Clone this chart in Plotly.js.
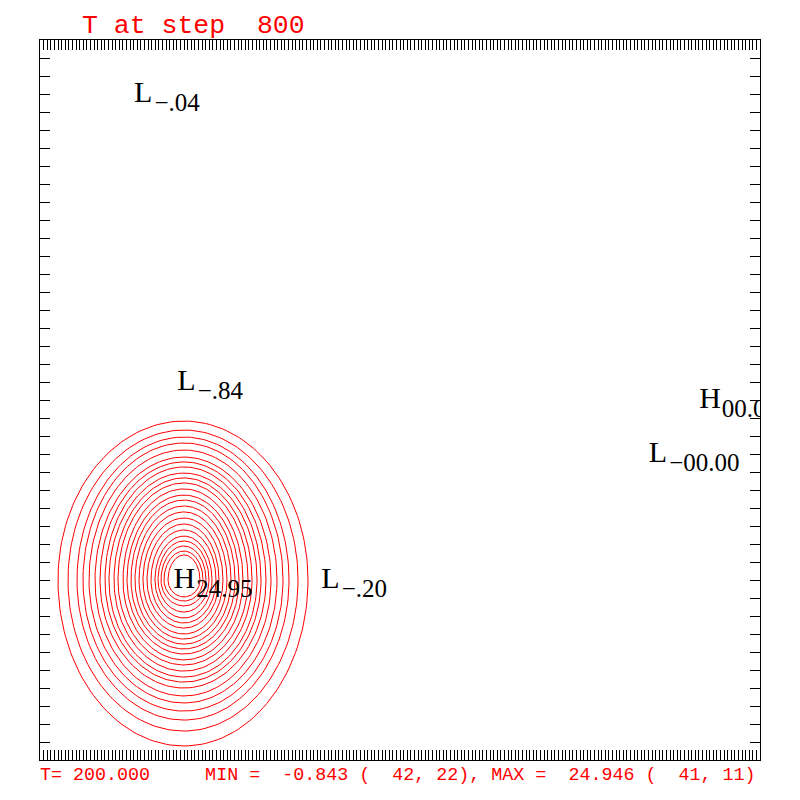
<!DOCTYPE html>
<html><head><meta charset="utf-8">
<script src="https://cdn.plot.ly/plotly-3.0.1.min.js"></script>
<style>html,body{margin:0;padding:0;background:#fff}</style>
</head><body><div id="chart" style="width:800px;height:800px"></div>
<script>
// Grid: i = 1..201 (x), j = 1..41 (y)
const gridI = [1, 201];
const gridJ = [1, 41];

// Contour levels (interval 1) and their read-off extents in grid units
const levels = [1,2,3,4,5,6,7,8,9,10,11,12,13,14,15,16,17,18,19,20,21,22,23,24];
const ringLeft   = [6.0,8.78,11.28,12.94,14.61,16.28,17.67,19.06,20.17,21.56,22.67,24.06,25.17,26.28,27.39,28.5,29.61,30.72,31.83,32.94,33.78,34.61,35.44,36.56];
const ringRight  = [75.44,72.67,70.17,68.5,66.83,65.17,63.78,62.39,61.28,59.89,58.78,57.39,56.28,55.17,54.06,52.94,51.83,50.72,49.89,48.78,47.94,47.11,46.28,45.44];
const ringTop    = [19.83,19.33,18.94,18.61,18.22,17.83,17.56,17.28,16.94,16.67,16.39,16.06,15.72,15.44,15.11,14.78,14.44,14.11,13.78,13.44,13.17,12.89,12.61,12.39];
const ringBottom = [1.78,2.61,3.22,3.72,4.17,4.56,5.0,5.33,5.61,5.94,6.28,6.56,6.89,7.17,7.44,7.72,8.0,8.33,8.61,8.89,9.22,9.56,9.83,10.06];

// Field maximum location (grid point)
const maxI = 41, maxJ = 11;

// Extrema labels
const extKind  = ['L','L','H','L','H','L'];
const extI     = [30, 42, 41, 82, 187, 173];
const extJ     = [38, 22, 11, 11, 21, 18];
const extValue = ['\u2212.04','\u2212.84','24.95','\u2212.20','00.00','\u221200.00'];

const titleText = 'T at step\u00a0\u00a0800';
const footerText = 'T=\u00a0200.000\u00a0\u00a0\u00a0\u00a0\u00a0MIN\u00a0=\u00a0\u00a0-0.843\u00a0(\u00a0\u00a042,\u00a022),\u00a0MAX\u00a0=\u00a0\u00a024.946\u00a0(\u00a0\u00a041,\u00a011)';

const traces = [];
levels.forEach((lv, k) => {
  const xs = [], ys = [];
  for (let n = 0; n <= 360; n += 2) {
    const t = n * Math.PI / 180, c = Math.cos(t), s = Math.sin(t);
    const rx = c >= 0 ? ringRight[k] - maxI : maxI - ringLeft[k];
    const ry = s >= 0 ? ringTop[k] - maxJ : maxJ - ringBottom[k];
    xs.push(maxI + rx * c);
    ys.push(maxJ + ry * s);
  }
  traces.push({type: 'scatter', mode: 'lines', x: xs, y: ys, name: String(lv),
    line: {color: '#ff0000', width: 1}, hoverinfo: 'skip', showlegend: false});
});

// label offsets (style): letter is centred on the extremum, value follows as subscript
const letterHalf = 2.9;                     // grid units (~10 px)
const letterAdv = {L: 5.7, H: 6.3};         // grid units
const subDrop = 0.6;                        // grid units (~11 px)
traces.push({type: 'scatter', mode: 'text', cliponaxis: true, showlegend: false,
  x: extI.map(v => v - letterHalf), y: extJ, text: extKind,
  textposition: 'middle right',
  textfont: {family: 'Liberation Serif, serif', size: 30, color: '#000'},
  hoverinfo: 'skip'});
traces.push({type: 'scatter', mode: 'text', cliponaxis: true, showlegend: false,
  x: extI.map((v, n) => v - letterHalf + letterAdv[extKind[n]]), y: extJ.map(v => v - subDrop),
  text: extValue, textposition: 'middle right',
  textfont: {family: 'Liberation Serif, serif', size: 25, color: '#000'},
  hoverinfo: 'skip'});

const axisCommon = {showgrid: false, zeroline: false, showticklabels: false,
  ticks: 'inside', ticklen: 10, tickwidth: 1, tickcolor: '#000', dtick: 1, tick0: 1,
  showline: true, mirror: 'ticks', linecolor: '#000', linewidth: 1};

const layout = {
  width: 800, height: 800,
  margin: {l: 40, r: 40, t: 40, b: 40},
  paper_bgcolor: '#fff', plot_bgcolor: '#fff',
  title: {text: titleText, x: 82/800, xref: 'container', xanchor: 'left',
    y: 1 - 24/800, yref: 'container', yanchor: 'middle',
    font: {family: 'Liberation Mono, monospace', size: 26.5, color: '#ff0000'}},
  xaxis: Object.assign({range: gridI}, axisCommon),
  yaxis: Object.assign({range: gridJ}, axisCommon),
  annotations: [{text: footerText, xref: 'paper', yref: 'paper', x: -2/720, y: -15/720,
    xanchor: 'left', yanchor: 'middle', showarrow: false,
    font: {family: 'Liberation Mono, monospace', size: 18.35, color: '#ff0000'}}]
};

Plotly.newPlot('chart', traces, layout, {staticPlot: true});
</script></body></html>
